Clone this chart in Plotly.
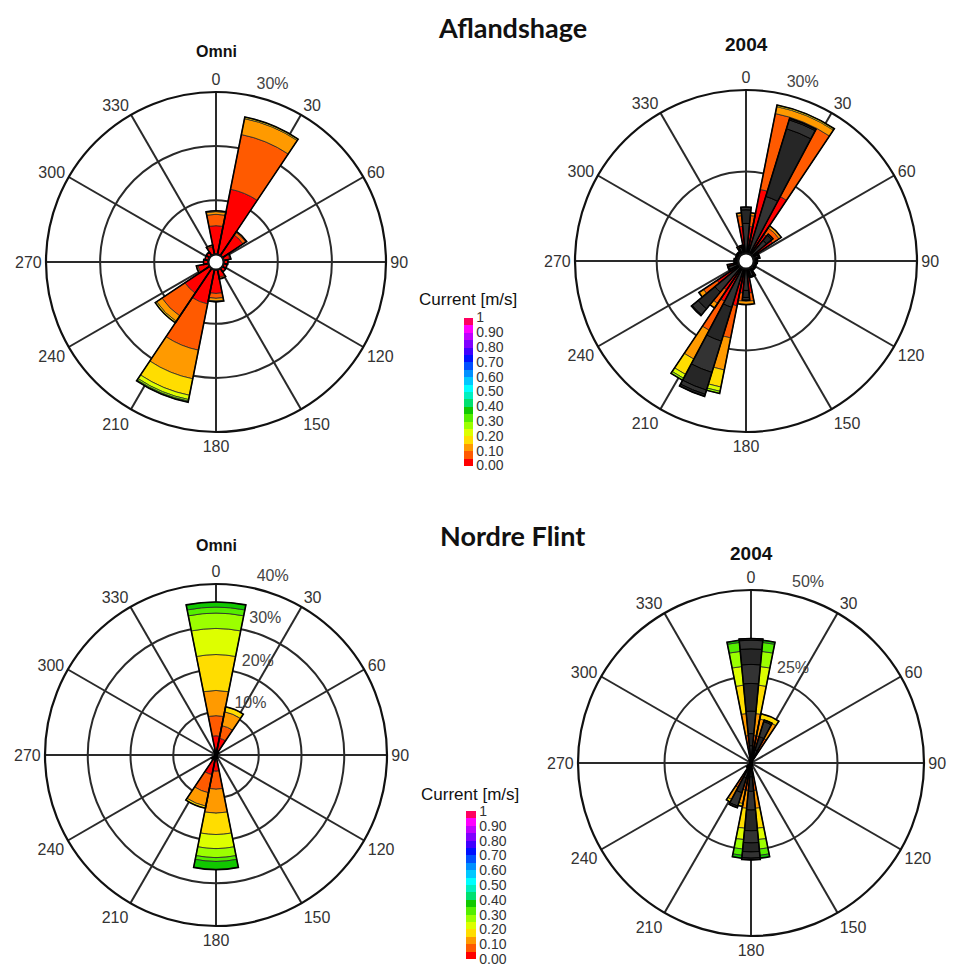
import plotly.graph_objects as go

W, H = 962, 967

# ---------------- data ----------------
DIRECTIONS = [0, 22.5, 45, 67.5, 90, 112.5, 135, 157.5,
              180, 202.5, 225, 247.5, 270, 292.5, 315, 337.5]
ANGLE_TICKS = [0, 30, 60, 90, 120, 150, 180, 210, 240, 270, 300, 330]
ANGLE_LABELS = ["0", "30", "60", "90", "120", "150", "180", "210", "240", "270", "300", "330"]
SPEED_BINS = ["0.00-0.05", "0.05-0.10", "0.10-0.15", "0.15-0.20",
              "0.20-0.25", "0.25-0.30", "0.30-0.35", "0.35-0.40"]
BIN_CENTERS = [0.025, 0.075, 0.125, 0.175, 0.225, 0.275, 0.325, 0.375]
CB_TICKS = [0, 0.1, 0.2, 0.3, 0.4, 0.5, 0.6, 0.7, 0.8, 0.9, 1.0]
CB_LABELS = ["0.00", "0.10", "0.20", "0.30", "0.40", "0.50", "0.60", "0.70", "0.80", "0.90", "1"]

# Aflandshage, Omni: frequency [%] per speed bin (rows) and direction (cols)
AFL_OMNI = [
    [5.3, 12.3, 4.6, 1.2, 0.8, 0.7, 0.8, 1.5, 4.4, 6.5, 5.5, 2.0, 0.9, 0.7, 0.8, 1.5],
    [2.1, 10.3, 0.6, 0.2, 0, 0, 0, 0.3, 0.9, 8.7, 5.1, 0.3, 0, 0, 0, 0.3],
    [0.5, 3.0, 0.2, 0, 0, 0, 0, 0, 0.5, 5.4, 1.2, 0, 0, 0, 0, 0],
    [0.15, 0.3, 0, 0, 0, 0, 0, 0, 0.15, 3.1, 0.3, 0, 0, 0, 0, 0],
    [0, 0, 0, 0, 0, 0, 0, 0, 0, 0.8, 0, 0, 0, 0, 0, 0],
    [0, 0, 0, 0, 0, 0, 0, 0, 0, 0.3, 0, 0, 0, 0, 0, 0],
    [0, 0, 0, 0, 0, 0, 0, 0, 0, 0.2, 0, 0, 0, 0, 0, 0],
]
# Aflandshage, 2004 panel: coloured rose
AFL_2004 = [
    [5.0, 12.0, 4.5, 1.0, 0.7, 0.6, 0.7, 1.4, 4.5, 7.0, 5.0, 1.8, 0.8, 0.6, 0.7, 1.3],
    [2.0, 14.2, 1.4, 0.2, 0, 0, 0, 0.3, 1.5, 6.0, 3.0, 0.3, 0, 0, 0, 0.3],
    [0.5, 1.3, 0.5, 0, 0, 0, 0, 0, 0.6, 6.0, 1.0, 0, 0, 0, 0, 0],
    [0, 0.3, 0, 0, 0, 0, 0, 0, 0, 3.2, 0, 0, 0, 0, 0, 0],
    [0, 0, 0, 0, 0, 0, 0, 0, 0, 0.8, 0, 0, 0, 0, 0, 0],
    [0, 0, 0, 0, 0, 0, 0, 0, 0, 0.4, 0, 0, 0, 0, 0, 0],
]
# Aflandshage, 2004 panel: year 2004 (dark bars)
AFL_2004_YEAR = [
    [5.5, 11.0, 3.5, 1.0, 0.6, 0.5, 0.6, 1.5, 4.0, 7.5, 6.0, 2.0, 0.7, 0.5, 0.6, 1.3],
    [2.5, 13.0, 1.2, 0, 0, 0, 0, 0, 1.3, 6.5, 4.0, 0, 0, 0, 0, 0],
    [0.5, 1.7, 0.3, 0, 0, 0, 0, 0, 0.5, 6.0, 1.4, 0, 0, 0, 0, 0],
    [0, 0.3, 0, 0, 0, 0, 0, 0, 0, 3.4, 0.2, 0, 0, 0, 0, 0],
    [0, 0, 0, 0, 0, 0, 0, 0, 0, 0.8, 0, 0, 0, 0, 0, 0],
    [0, 0, 0, 0, 0, 0, 0, 0, 0, 0.4, 0, 0, 0, 0, 0, 0],
]
# Nordre Flint, Omni
NF_OMNI = [
    [4.5, 4.0, 0.8, 0.3, 0.2, 0.2, 0.3, 0.6, 3.8, 4.7, 1.0, 0.3, 0.2, 0.2, 0.3, 0.8],
    [4.7, 3.0, 0, 0, 0, 0, 0, 0.2, 4.2, 4.3, 0.3, 0, 0, 0, 0, 0.2],
    [5.9, 3.3, 0, 0, 0, 0, 0, 0, 5.6, 3.2, 0, 0, 0, 0, 0, 0],
    [8.4, 1.2, 0, 0, 0, 0, 0, 0, 5.0, 0.5, 0, 0, 0, 0, 0, 0],
    [6.1, 0, 0, 0, 0, 0, 0, 0, 3.3, 0, 0, 0, 0, 0, 0, 0],
    [3.6, 0, 0, 0, 0, 0, 0, 0, 2.1, 0, 0, 0, 0, 0, 0, 0],
    [1.4, 0, 0, 0, 0, 0, 0, 0, 0.9, 0, 0, 0, 0, 0, 0, 0],
    [1.2, 0, 0, 0, 0, 0, 0, 0, 1.9, 0, 0, 0, 0, 0, 0, 0],
]
# Nordre Flint, 2004 panel: coloured rose
NF_2004 = [
    [5.0, 4.0, 0.5, 0.3, 0.2, 0.2, 0.3, 0.8, 4.0, 4.0, 1.0, 0.3, 0.2, 0.2, 0.3, 1.0],
    [3.0, 4.0, 0, 0, 0, 0, 0, 0, 4.0, 4.0, 0, 0, 0, 0, 0, 0],
    [6.4, 5.0, 0, 0, 0, 0, 0, 0, 5.2, 4.0, 0, 0, 0, 0, 0, 0],
    [8.2, 1.5, 0, 0, 0, 0, 0, 0, 5.8, 0.8, 0, 0, 0, 0, 0, 0],
    [5.4, 0, 0, 0, 0, 0, 0, 0, 3.3, 0, 0, 0, 0, 0, 0, 0],
    [4.4, 0, 0, 0, 0, 0, 0, 0, 2.7, 0, 0, 0, 0, 0, 0, 0],
    [2.6, 0, 0, 0, 0, 0, 0, 0, 1.8, 0, 0, 0, 0, 0, 0, 0],
    [0.6, 0, 0, 0, 0, 0, 0, 0, 0.8, 0, 0, 0, 0, 0, 0, 0],
]
# Nordre Flint, 2004 panel: year 2004 (dark bars)
NF_2004_YEAR = [
    [5.0, 4.0, 0.5, 0.3, 0.2, 0.2, 0.3, 0.8, 4.0, 4.5, 1.2, 0.3, 0.2, 0.2, 0.3, 0.8],
    [3.5, 4.0, 0, 0, 0, 0, 0, 0, 4.2, 4.5, 0.5, 0, 0, 0, 0, 0],
    [6.5, 4.5, 0, 0, 0, 0, 0, 0, 5.4, 4.0, 0, 0, 0, 0, 0, 0],
    [8.0, 0.5, 0, 0, 0, 0, 0, 0, 6.0, 0.5, 0, 0, 0, 0, 0, 0],
    [5.5, 0, 0, 0, 0, 0, 0, 0, 3.5, 0, 0, 0, 0, 0, 0, 0],
    [4.5, 0, 0, 0, 0, 0, 0, 0, 2.6, 0, 0, 0, 0, 0, 0, 0],
    [2.5, 0, 0, 0, 0, 0, 0, 0, 1.8, 0, 0, 0, 0, 0, 0, 0],
    [0.5, 0, 0, 0, 0, 0, 0, 0, 0.5, 0, 0, 0, 0, 0, 0, 0],
]

# ---------------- styling ----------------
BIN_COLORS = ["#ff0000", "#ff5a00", "#ff9a00", "#ffdd00", "#ddff00", "#9cff00",
              "#55ee00", "#11c800", "#00e070", "#00f0c0", "#00ffff", "#00c8ff",
              "#0090ff", "#0050ff", "#0010ff", "#4000ff", "#8000ff", "#c000ff",
              "#ff00ff", "#ff0060"]
n = len(BIN_COLORS)
SCALE = []
for i, c in enumerate(BIN_COLORS):
    SCALE.append([i / n, c])
    SCALE.append([(i + 1) / n, c])

FONT = "Liberation Sans, Arial, sans-serif"
GRID = "#2a2a2a"

fig = go.Figure()


def add_rose(subplot, bins, caxis, width, dark=False):
    cum = [0.0] * len(DIRECTIONS)
    for i, row in enumerate(bins):
        th, rr, bb = [], [], []
        for j, v in enumerate(row):
            if v > 0:
                th.append(DIRECTIONS[j])
                rr.append(v)
                bb.append(cum[j])
                cum[j] += v
        if not th:
            continue
        if dark:
            marker = dict(color="#333333" if i % 2 == 0 else "#262626",
                          line=dict(color="#000000", width=1))
        else:
            marker = dict(color=[BIN_CENTERS[i]] * len(th), coloraxis=caxis,
                          line=dict(color="#2a2a2a", width=0.8))
        fig.add_trace(go.Barpolar(r=rr, theta=th, base=bb, width=width,
                                  marker=marker, subplot=subplot,
                                  name=SPEED_BINS[i], showlegend=False,
                                  hoverinfo="skip"))
    # thick outline of the totals
    th = [DIRECTIONS[j] for j in range(len(DIRECTIONS)) if cum[j] > 0]
    rr = [cum[j] for j in range(len(DIRECTIONS)) if cum[j] > 0]
    fig.add_trace(go.Barpolar(r=rr, theta=th, width=width, subplot=subplot,
                              marker=dict(color="rgba(0,0,0,0)",
                                          line=dict(color="#000000", width=1.6)),
                              showlegend=False, hoverinfo="skip"))


add_rose("polar", AFL_OMNI, "coloraxis", 22.5)
add_rose("polar2", AFL_2004, "coloraxis", 22.5)
add_rose("polar2", AFL_2004_YEAR, None, 11, dark=True)
add_rose("polar3", NF_OMNI, "coloraxis2", 22.5)
add_rose("polar4", NF_2004, "coloraxis2", 22.5)
add_rose("polar4", NF_2004_YEAR, None, 11, dark=True)


def polar_layout(cx, cy, rad, rmax, hole):
    return dict(
        domain=dict(x=[(cx - rad) / W, (cx + rad) / W],
                    y=[1 - (cy + rad) / H, 1 - (cy - rad) / H]),
        bgcolor="white", hole=hole, barmode="overlay",
        angularaxis=dict(rotation=90, direction="clockwise", tickmode="array",
                         tickvals=ANGLE_TICKS, ticktext=ANGLE_LABELS,
                         showgrid=True, gridcolor=GRID, gridwidth=1.8,
                         showline=True, linecolor="#111111", linewidth=2.2,
                         ticks="", tickfont=dict(family=FONT, size=16, color="#333333")),
        radialaxis=dict(range=[0, rmax], tickmode="array", tickvals=RING_VALS[rmax],
                        showticklabels=False, showline=False, ticks="",
                        showgrid=True, gridcolor=GRID, gridwidth=1.8),
    )


# label layer: same centre, percentage labels sit a little outside each ring
def label_layout(cx, cy, rad, rmax, hole, rtt, lift=15, rg=195):
    hole_px = hole * rad
    s = (rad - hole_px) / rmax
    g0 = -(hole_px + lift) / s
    g1 = g0 + rg / s
    return dict(
        domain=dict(x=[(cx - rg) / W, (cx + rg) / W],
                    y=[1 - (cy + rg) / H, 1 - (cy - rg) / H]),
        bgcolor="rgba(0,0,0,0)",
        angularaxis=dict(visible=False, rotation=90, direction="clockwise"),
        radialaxis=dict(range=[g0, g1], tickmode="array", tickvals=RING_VALS[rmax],
                        ticktext=rtt, showgrid=False, showline=False, ticks="",
                        angle=80, tickangle=80, side="clockwise",
                        tickfont=dict(family=FONT, size=16, color="#444444")),
    )


RING_VALS = {30: [10, 20, 30], 40: [10, 20, 30, 40], 50: [25, 50]}
TOP_RINGS = [10, 20, 30]
TR_RINGS = [15, 30]
RING_VALS_TR = TR_RINGS

for sp in ["polar5", "polar6", "polar7", "polar8"]:
    fig.add_trace(go.Scatterpolar(r=[0], theta=[0], mode="markers",
                                  marker=dict(opacity=0), subplot=sp,
                                  showlegend=False, hoverinfo="skip"))

p2 = polar_layout(746, 261, 171, 30, 0.045)
p2["radialaxis"]["tickvals"] = TR_RINGS
l2 = label_layout(746, 261, 171, 30, 0.045, ["", "30%"])
l2["radialaxis"]["tickvals"] = TR_RINGS

fig.update_layout(
    width=W, height=H, margin=dict(l=0, r=0, t=0, b=0),
    paper_bgcolor="white", plot_bgcolor="white",
    polar=polar_layout(216, 262, 170, 30, 0.045),
    polar2=p2,
    polar3=polar_layout(216, 755, 171, 40, 0),
    polar4=polar_layout(751, 763, 173, 50, 0),
    polar5=label_layout(216, 262, 170, 30, 0.045, ["", "", "30%"]),
    polar6=l2,
    polar7=label_layout(216, 755, 171, 40, 0, ["10%", "20%", "30%", "40%"]),
    polar8=label_layout(751, 763, 173, 50, 0, ["25%", "50%"]),
    coloraxis=dict(cmin=0, cmax=1, colorscale=SCALE,
                   colorbar=dict(x=464 / W, xanchor="left", xpad=0, ypad=0,
                                 y=1 - 391.5 / H, yanchor="middle",
                                 len=148, lenmode="pixels", thickness=9,
                                 outlinewidth=0, tickmode="array",
                                 tickvals=CB_TICKS, ticktext=CB_LABELS, ticks="",
                                 tickfont=dict(family=FONT, size=14, color="#333333"))),
    coloraxis2=dict(cmin=0, cmax=1, colorscale=SCALE,
                    colorbar=dict(x=466 / W, xanchor="left", xpad=0, ypad=0,
                                  y=1 - 885 / H, yanchor="middle",
                                  len=148, lenmode="pixels", thickness=10,
                                  outlinewidth=0, tickmode="array",
                                  tickvals=CB_TICKS, ticktext=CB_LABELS, ticks="",
                                  tickfont=dict(family=FONT, size=14, color="#333333"))),
    showlegend=False,
)

ann = [
    ("Aflandshage", 512, 27, 27, "Lato, Liberation Sans, sans-serif", True),
    ("Nordre Flint", 512, 535, 27, "Lato, Liberation Sans, sans-serif", True),
    ("Omni", 216, 52, 16, FONT, True),
    ("2004", 746, 45, 19, FONT, True),
    ("Omni", 216, 545, 16, FONT, True),
    ("2004", 751, 553, 19, FONT, True),
    ("Current [m/s]", 468, 300, 17, FONT, False),
    ("Current [m/s]", 470, 794, 17, FONT, False),
]
for text, x, y, size, fam, bold in ann:
    fig.add_annotation(text=f"<b>{text}</b>" if bold else text,
                       x=x / W, y=1 - y / H, xref="paper", yref="paper",
                       showarrow=False, xanchor="center", yanchor="middle",
                       font=dict(family=fam, size=size, color="#111111"))

fig.write_html("out.html")
